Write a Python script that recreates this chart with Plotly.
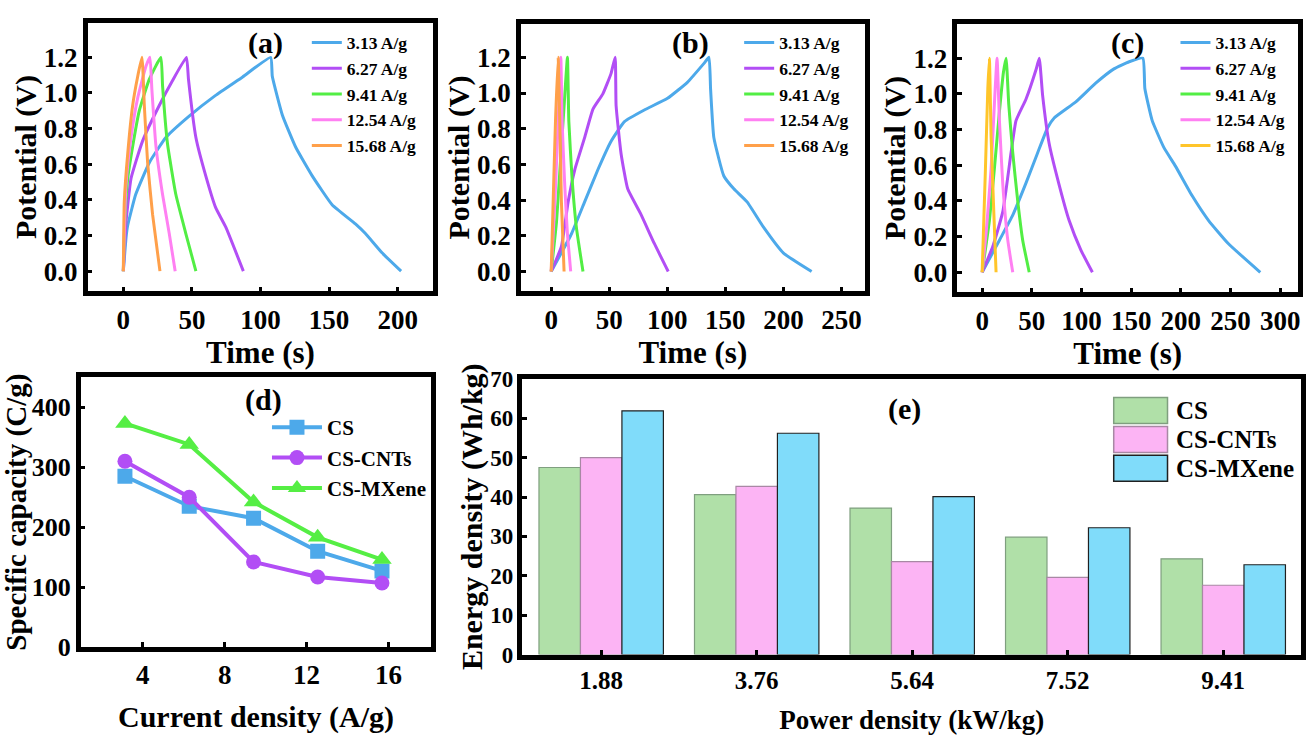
import plotly.graph_objects as go

W, H = 1306, 745
FONT = "Liberation Serif"

# ---------------- data ----------------
rates = ["3.13 A/g", "6.27 A/g", "9.41 A/g", "12.54 A/g", "15.68 A/g"]

# Panel (a) GCD curves
a_t = [
    [0, 2, 3, 9, 19, 31, 48, 67, 87, 107.4, 108.6, 115.9, 125.6, 137.7, 152.2, 169.2, 176.5, 188.6, 202.5],
    [0, 1.9, 5.6, 14, 26.2, 35.9, 46, 47.5, 52.9, 60.1, 67.4, 74.7, 87.5],
    [0, 1.2, 3.2, 6.8, 11.6, 18.9, 27.4, 28.6, 32.2, 38.3, 45.6, 52.9],
    [0, 1.9, 5.6, 10.4, 16.5, 19.4, 20.8, 23.8, 28.6, 33.5, 37.8],
    [0, 0.7, 3.2, 6.8, 10.4, 13.6, 15.3, 17.7, 21.3, 26.7],
]
a_v = [
    [0, 0.19, 0.25, 0.43, 0.61, 0.75, 0.87, 0.985, 1.09, 1.2, 1.094, 0.877, 0.697, 0.535, 0.373, 0.265, 0.211, 0.103, 0.0],
    [0, 0.27, 0.52, 0.73, 0.93, 1.07, 1.2, 1.076, 0.75, 0.535, 0.355, 0.247, 0.0],
    [0, 0.30, 0.52, 0.70, 0.90, 1.076, 1.2, 1.04, 0.715, 0.43, 0.21, 0.0],
    [0, 0.48, 0.75, 0.97, 1.15, 1.2, 1.02, 0.70, 0.43, 0.21, 0.0],
    [0, 0.39, 0.66, 0.93, 1.09, 1.2, 0.93, 0.61, 0.32, 0.0],
]

# Panel (b) GCD curves
b_t = [
    [0, 17.4, 28.8, 40.2, 51.6, 63.1, 80.2, 100.2, 117.3, 131.6, 135.9, 137.3, 140.1, 148.7, 157.3, 168.7, 183, 200.1, 224.3],
    [0, 8.8, 14.6, 20.3, 28.8, 36, 44.5, 51.6, 55.1, 55.9, 60.2, 65.9, 77.3, 88.8, 100.8],
    [0, 4.6, 8.8, 11.7, 14, 15.2, 18, 21.7, 27.4],
    [0, 3.2, 6, 8.3, 9.4, 11.7, 14, 16.8],
    [0, 1.7, 3.7, 6, 7.4, 8.8, 11.1],
]
b_v = [
    [0, 0.21, 0.39, 0.57, 0.73, 0.84, 0.905, 0.97, 1.06, 1.166, 1.2, 1.02, 0.75, 0.535, 0.463, 0.39, 0.247, 0.103, 0.0],
    [0, 0.14, 0.39, 0.57, 0.75, 0.91, 0.995, 1.11, 1.2, 0.93, 0.66, 0.463, 0.32, 0.157, 0.0],
    [0, 0.28, 0.70, 0.985, 1.2, 0.84, 0.52, 0.247, 0.0],
    [0, 0.39, 0.84, 1.2, 0.84, 0.48, 0.21, 0.0],
    [0, 0.39, 0.84, 1.2, 0.84, 0.39, 0.0],
]

# Panel (c) GCD curves
c_t = [
    [0, 17.4, 30.8, 44.1, 55.9, 65.9, 72.5, 94.3, 114.3, 132.7, 148, 161.8, 163.8, 171.2, 182.9, 194.6, 211.3, 228, 248, 280],
    [0, 10.7, 20.8, 29.1, 34.1, 44.1, 54.2, 57.5, 60.9, 67.5, 77.5, 87.6, 99.3, 111],
    [0, 7.3, 12.3, 17.4, 21.4, 24.1, 26.8, 30.8, 35.8, 40.8, 47.4],
    [0, 4, 9, 12.3, 15, 17.4, 20.8, 25.8, 30.8],
    [0, 3.3, 5.7, 7.3, 9, 11.3, 14],
]
c_v = [
    [0, 0.18, 0.32, 0.50, 0.67, 0.81, 0.865, 0.955, 1.06, 1.14, 1.18, 1.2, 1.03, 0.85, 0.70, 0.595, 0.43, 0.29, 0.16, 0.0],
    [0, 0.144, 0.34, 0.67, 0.85, 0.97, 1.135, 1.2, 0.99, 0.72, 0.49, 0.29, 0.126, 0.0],
    [0, 0.29, 0.58, 0.90, 1.12, 1.2, 0.94, 0.67, 0.40, 0.18, 0.0],
    [0, 0.22, 0.58, 0.94, 1.2, 0.85, 0.49, 0.18, 0.0],
    [0, 0.58, 1.03, 1.2, 0.76, 0.40, 0.0],
]

# Panel (d) specific capacity
current_density = [3.13, 6.27, 9.41, 12.54, 15.68]
d_names = ["CS", "CS-CNTs", "CS-MXene"]
cap_cs = [285, 235, 215, 160, 127]
cap_cnts = [310, 250, 142, 117, 107]
cap_mxene = [373, 338, 242, 183, 146]

# Panel (e) energy density
power_density = ["1.88", "3.76", "5.64", "7.52", "9.41"]
e_cs = [47.5, 40.6, 37.2, 29.8, 24.3]
e_cnts = [50.0, 42.7, 23.6, 19.6, 17.6]
e_mxene = [61.9, 56.2, 40.1, 32.2, 22.8]

# ---------------- styles ----------------
gcd_colors_ab = ["#4da9ea", "#b24ef5", "#52ee44", "#ff80f2", "#ffa04a"]
gcd_colors_c = ["#4da9ea", "#b24ef5", "#52ee44", "#ff80f2", "#ffc52a"]
d_colors = ["#4da9ea", "#b24ef5", "#55ee44"]
d_symbols = ["square", "circle", "triangle-up"]
e_colors = ["#b0e0a8", "#fcb4f4", "#80dcfa"]
e_edges = ["#7f9f7f", "#a888a4", "#202020"]


def px_x(p):
    return p / W


def px_y(p):
    return 1 - p / H


fig = go.Figure()

panels = [
    (a_t, a_v, gcd_colors_ab, "x", "y", "legend"),
    (b_t, b_v, gcd_colors_ab, "x2", "y2", "legend2"),
    (c_t, c_v, gcd_colors_c, "x3", "y3", "legend3"),
]
for ts, vs, cols, xa, ya, lg in panels:
    for name, t, v, col in zip(rates, ts, vs, cols):
        fig.add_trace(go.Scatter(
            x=t, y=v, mode="lines", name=name, xaxis=xa, yaxis=ya, legend=lg,
            line=dict(color=col, width=3, shape="spline", smoothing=0.4),
        ))

for name, vals, col, sym in zip(d_names, [cap_cs, cap_cnts, cap_mxene], d_colors, d_symbols):
    fig.add_trace(go.Scatter(
        x=current_density, y=vals, mode="lines+markers", name=name,
        xaxis="x4", yaxis="y4", legend="legend4",
        line=dict(color=col, width=4),
        marker=dict(symbol=sym, size=15 if sym != "triangle-up" else 17, color=col),
    ))

for name, vals, col, edge in zip(d_names, [e_cs, e_cnts, e_mxene], e_colors, e_edges):
    fig.add_trace(go.Bar(
        x=power_density, y=vals, name=name, xaxis="x5", yaxis="y5",
        marker=dict(color=col, line=dict(color=edge, width=1.2)),
        showlegend=False,
    ))


def axis(domain, rng, tickfont_size, title, title_size, standoff, **kw):
    d = dict(
        domain=domain, range=rng, showline=True, linecolor="black", linewidth=4.5,
        mirror=True, ticks="inside", ticklen=5, tickwidth=3, tickcolor="black",
        showgrid=False, zeroline=False,
        tickfont=dict(family=FONT, size=tickfont_size, color="black", weight="bold"),
        title=dict(text=title, standoff=standoff,
                   font=dict(family=FONT, size=title_size, color="black", weight="bold")),
    )
    d.update(kw)
    return d


layout = dict(
    width=W, height=H, autosize=False,
    margin=dict(l=0, r=0, t=0, b=0),
    paper_bgcolor="white", plot_bgcolor="white",
    barmode="group", bargap=0.2, bargroupgap=0,
    xaxis=axis([px_x(88), px_x(435)], [-26, 226], 27, "Time (s)", 31, 2,
               anchor="y", tick0=0, dtick=50),
    yaxis=axis([px_y(290), px_y(11)], [-0.114, 1.395], 27, "Potential (V)", 30, 0,
               anchor="x", tick0=0, dtick=0.2, tickformat=".1f"),
    xaxis2=axis([px_x(523), px_x(868)], [-26, 270], 27, "Time (s)", 31, 2,
                anchor="y2", tick0=0, dtick=50),
    yaxis2=axis([px_y(290), px_y(12)], [-0.112, 1.389], 27, "Potential (V)", 30, 0,
                anchor="x2", tick0=0, dtick=0.2, tickformat=".1f"),
    xaxis3=axis([px_x(961), px_x(1303)], [-25, 318], 27, "Time (s)", 31, 2,
                anchor="y3", tick0=0, dtick=50),
    yaxis3=axis([px_y(291), px_y(12)], [-0.113, 1.394], 27, "Potential (V)", 30, 0,
                anchor="x3", tick0=0, dtick=0.2, tickformat=".1f"),
    xaxis4=axis([px_x(81), px_x(433)], [0.97, 18.09], 27, "Current density (A/g)", 30, 18,
                anchor="y4", tickvals=[4, 8, 12, 16]),
    yaxis4=axis([px_y(659), px_y(379)], [0, 450], 26, "Specific capacity (C/g)", 29, 0,
                anchor="x4", tick0=0, dtick=100),
    xaxis5=axis([px_x(524.5), 1.0], [-0.506, 4.5], 25, "Power density (kW/kg)", 27, 18,
                anchor="y5", type="category"),
    yaxis5=axis([px_y(666.7), px_y(380.7)], [0, 70], 23, "Energy density (Wh/kg)", 30, 0,
                anchor="x5", tick0=0, dtick=10),
)

leg_common = dict(xanchor="left", yanchor="top", bgcolor="rgba(0,0,0,0)",
                  borderwidth=0, tracegroupgap=0,
                  font=dict(family=FONT, size=17.5, color="black", weight="bold"))
layout["legend"] = dict(x=px_x(308), y=px_y(13), **leg_common)
layout["legend2"] = dict(x=px_x(742), y=px_y(13), **leg_common)
layout["legend3"] = dict(x=px_x(1180), y=px_y(13), **leg_common)
leg4 = dict(leg_common)
leg4["font"] = dict(family=FONT, size=21, color="black", weight="bold")
layout["legend4"] = dict(x=px_x(268), y=px_y(410), itemwidth=50, **leg4)

fig.update_layout(**layout)

# panel labels
labels = [("(a)", 267, 32), ("(b)", 693, 32), ("(c)", 1132, 32), ("(d)", 265, 403), ("(e)", 908, 412)]
for txt, x, y in labels:
    fig.add_annotation(text=txt, x=px_x(x), y=px_y(y), xref="paper", yref="paper",
                       showarrow=False, xanchor="center", yanchor="middle",
                       font=dict(family=FONT, size=30, color="black", weight="bold"))

# legend for bar panel (e)
for i, (name, col, edge) in enumerate(zip(d_names, e_colors, e_edges)):
    top = 400 + i * 30
    fig.add_shape(type="rect", xref="paper", yref="paper",
                  x0=px_x(1118), x1=px_x(1172), y0=px_y(top + 27), y1=px_y(top),
                  fillcolor=col, line=dict(color=edge, width=1.5))
    fig.add_annotation(text=name, x=px_x(1179), y=px_y(top + 13.5), xref="paper", yref="paper",
                       showarrow=False, xanchor="left", yanchor="middle",
                       font=dict(family=FONT, size=25, color="black", weight="bold"))

fig.write_html("out.html")
